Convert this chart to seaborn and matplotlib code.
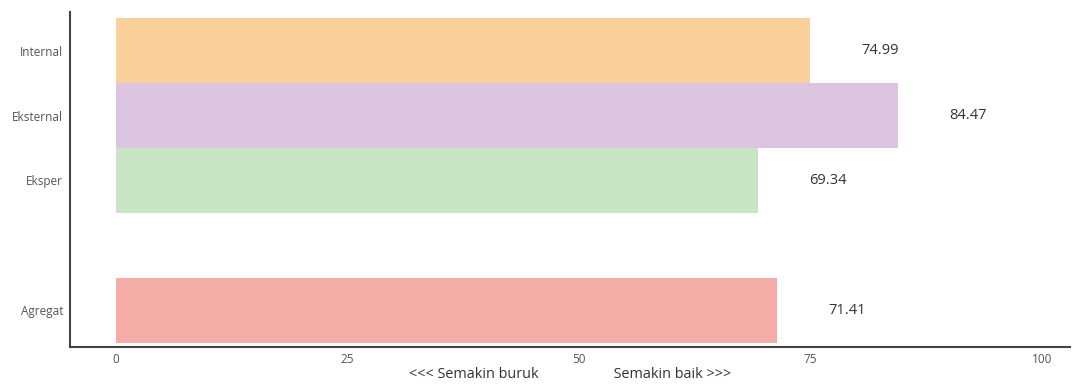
import matplotlib
matplotlib.use("Agg")
import matplotlib.pyplot as plt
import seaborn as sns
import pandas as pd

categories = ["Internal", "Eksternal", "Eksper", "Agregat"]
values = [74.99, 84.47, 69.34, 71.41]
slot_order = ["Internal", "Eksternal", "Eksper", " ", "Agregat"]
colors = ["#FAD19B", "#DCC5E0", "#C9E5C5", "#F3ADA6"]
x_ticks = [0, 25, 50, 75, 100]
x_label = "<<< Semakin buruk" + " " * 20 + "Semakin baik >>>"

sns.set_style("white")
plt.rcParams["font.family"] = ["Open Sans", "DejaVu Sans"]

df = pd.DataFrame({"kategori": categories, "nilai": values})
palette = dict(zip(categories, colors))

fig = plt.figure(figsize=(10.73, 3.84), dpi=100)
ax = fig.add_axes([0.0652, 0.096, 0.9318, 0.873])

sns.barplot(data=df, x="nilai", y="kategori", hue="kategori", order=slot_order,
            palette=palette, width=1.0, legend=False, ax=ax, saturation=1.0,
            orient="h", linewidth=0, edgecolor="none")

pos = {c: i for i, c in enumerate(slot_order)}
for c, v in zip(categories, values):
    ax.text(v + 5.5, pos[c], f"{v:.2f}", va="center", ha="left",
            fontsize=10.5, color="#333333")

ax.set_xlim(-4.97, 103.0)
ax.set_ylim(4.57, -0.6)
ax.set_xticks(x_ticks)
ax.set_xticklabels([str(t) for t in x_ticks])
ax.tick_params(axis="x", length=0, labelsize=8.5, labelcolor="#555555", pad=4)
ax.tick_params(axis="y", length=0, labelsize=8.5, labelcolor="#555555", pad=5)
ax.set_ylabel("")
ax.set_xlabel(x_label, fontsize=10.4, color="#333333", labelpad=1)

for s in ["top", "right"]:
    ax.spines[s].set_visible(False)
for s in ["left", "bottom"]:
    ax.spines[s].set_color("#444444")
    ax.spines[s].set_linewidth(1.5)

fig.savefig("out.png", dpi=100)
